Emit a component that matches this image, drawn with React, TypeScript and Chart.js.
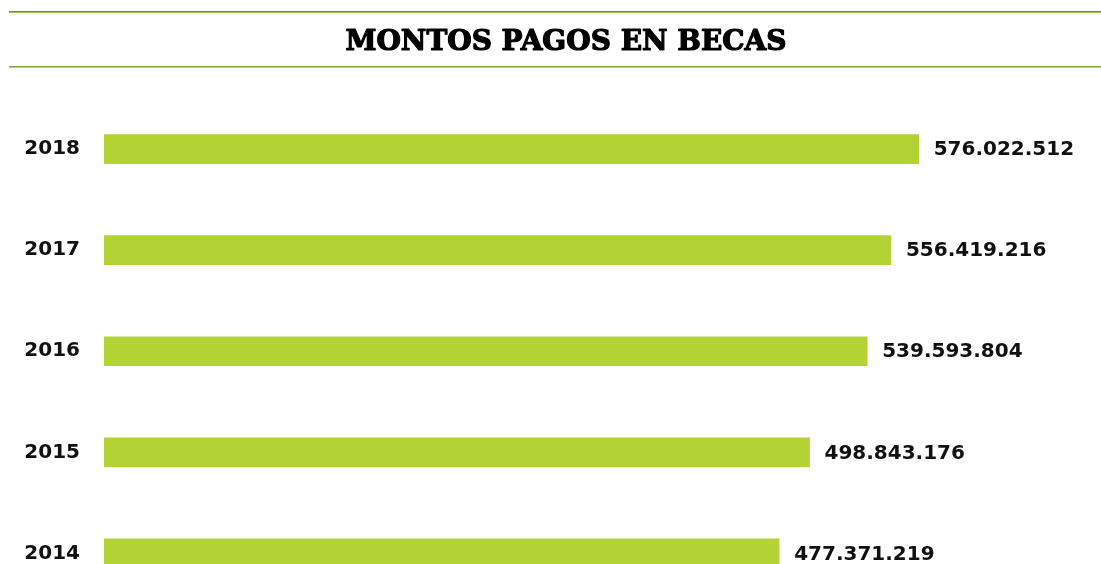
import React, { useEffect, useRef } from "react";
import { Chart, registerables } from "chart.js";

Chart.register(...registerables);

const title = "MONTOS PAGOS EN BECAS";
const years = ["2018", "2017", "2016", "2015", "2014"];
const amounts = [576022512, 556419216, 539593804, 498843176, 477371219];
const axisMin = 0;
const axisMax = 700000000;

const fmt = (v: number) => String(Math.round(v)).replace(/\B(?=(\d{3})+(?!\d))/g, ".");

const decorPlugin = {
  id: "decor",
  beforeDraw(chart: any) {
    const ctx = chart.ctx;
    const w = chart.width;
    ctx.save();
    ctx.fillStyle = "#ffffff";
    ctx.fillRect(0, 0, w, chart.height);
    ctx.fillStyle = "#6a9a10";
    ctx.fillRect(9, 11, w, 1);
    ctx.fillStyle = "#9fc45a";
    ctx.fillRect(9, 12, w, 1);
    ctx.fillStyle = "#86b035";
    ctx.fillRect(9, 66, w, 1);
    ctx.fillStyle = "#b3d084";
    ctx.fillRect(9, 67, w, 1);
    ctx.fillStyle = "#000000";
    ctx.strokeStyle = "#000000";
    ctx.lineWidth = 1.2;
    ctx.lineJoin = "round";
    ctx.font = "bold 28px 'DejaVu Serif'";
    ctx.textAlign = "center";
    ctx.textBaseline = "middle";
    ctx.fillText(title, 566, 43);
    ctx.strokeText(title, 566, 43);
    ctx.restore();
  },
  afterDatasetsDraw(chart: any) {
    const ctx = chart.ctx;
    const meta = chart.getDatasetMeta(0);
    ctx.save();
    ctx.fillStyle = "#111111";
    ctx.font = "bold 20px 'DejaVu Sans'";
    ctx.textAlign = "left";
    ctx.textBaseline = "middle";
    meta.data.forEach((bar: any, i: number) => {
      ctx.fillText(fmt(amounts[i]), bar.x + 15, bar.y + 1);
    });
    ctx.restore();
  },
};

export default function App() {
  const ref = useRef<HTMLCanvasElement | null>(null);
  useEffect(() => {
    if (!ref.current) return;
    const chart = new Chart(ref.current, {
      type: "bar",
      data: {
        labels: years,
        datasets: [
          {
            data: amounts,
            backgroundColor: "#b3d335",
            borderWidth: 0,
            barThickness: 29,
          },
        ],
      },
      options: {
        indexAxis: "y",
        animation: false,
        responsive: false,
        maintainAspectRatio: false,
        layout: { padding: { top: 98.5, bottom: 7, left: 0, right: 7 } },
        plugins: { legend: { display: false }, tooltip: { enabled: false }, title: { display: false } },
        scales: {
          x: { display: false, min: axisMin, max: axisMax },
          y: {
            grid: { display: false, drawTicks: false },
            border: { display: false },
            ticks: {
              color: "#111111",
              font: { family: "'DejaVu Sans'", weight: "bold", size: 20 },
              padding: 24,
            },
            afterFit: (s: any) => {
              s.width = 104;
            },
          },
        },
      },
      plugins: [decorPlugin],
    } as any);
    return () => chart.destroy();
  }, []);
  return (
    <div style={{ position: "fixed", left: 0, top: 0, width: 1101, height: 564, overflow: "hidden", background: "#fff" }}>
      <canvas ref={ref} width={1101} height={640} style={{ display: "block", width: 1101, height: 640 }} />
    </div>
  );
}
